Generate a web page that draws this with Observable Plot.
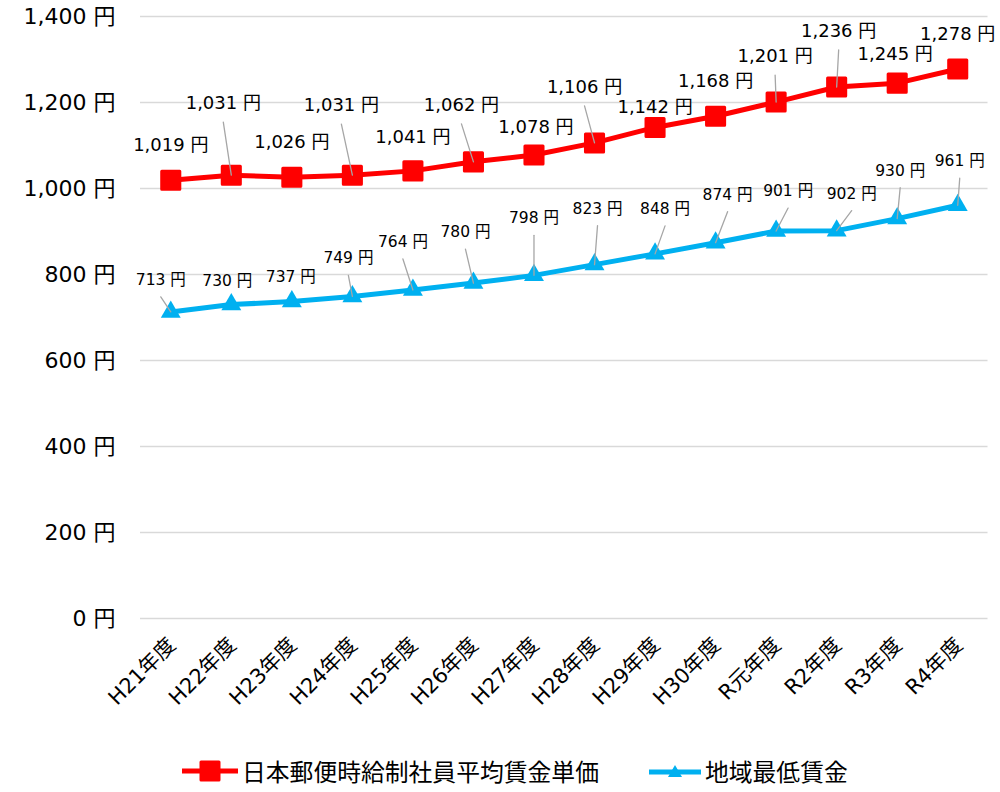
<!DOCTYPE html>
<html>
<head>
<meta charset="utf-8">
<script src="https://cdn.jsdelivr.net/npm/d3@7"></script>
<script src="https://cdn.jsdelivr.net/npm/@observablehq/plot@0.6"></script>
<style>
  body { margin: 0; background: #fff; font-family: "DejaVu Sans", Verdana, "Noto Sans CJK JP", sans-serif; }
  #legend { display: flex; align-items: center; margin-left: 182px; margin-top: 26px; font-family: "Noto Sans CJK JP", sans-serif; font-size: 23.8px; color: #000; line-height: 30px; }
  .item { display: flex; align-items: center; }
  .item svg { margin-right: 4px; }
</style>
</head>
<body>
<div id="chart"></div>
<div id="legend">
  <div class="item" style="margin-right:50px">
    <svg width="56" height="24"><line x1="0" y1="12" x2="56" y2="12" stroke="#FF0000" stroke-width="5"/><rect x="19" y="3" width="18" height="18" fill="#FF0000" stroke="#FF0000" stroke-width="3" stroke-linejoin="round"/></svg>
    <span>日本郵便時給制社員平均賃金単価</span>
  </div>
  <div class="item">
    <svg width="52" height="24"><line x1="0" y1="13" x2="52" y2="13" stroke="#00B0F0" stroke-width="5"/><path d="M26,6 L33,18 L19,18 Z" fill="#00B0F0"/></svg>
    <span>地域最低賃金</span>
  </div>
</div>
<script>
// ---- data ----
const years = ["H21年度","H22年度","H23年度","H24年度","H25年度","H26年度","H27年度","H28年度","H29年度","H30年度","R元年度","R2年度","R3年度","R4年度"];
const postalWage = [1019,1031,1026,1031,1041,1062,1078,1106,1142,1168,1201,1236,1245,1278];
const minWage = [713,730,737,749,764,780,798,823,848,874,901,902,930,961];
const yTicks = [0,200,400,600,800,1000,1200,1400];
const seriesNames = ["日本郵便時給制社員平均賃金単価","地域最低賃金"];

// ---- label layout (pixel offsets of each data label from its point; leader flag) ----
const redLabelDx = [0,-8,0,-11,0,-12,2,-10,0,0,-1,2,-2,0];
const redLabelDy = [-35,-72,-35,-70,-34,-57,-28,-56,-20,-35,-46,-56,-29,-35];
const redLeader  = [0,1,0,1,0,1,0,1,0,0,1,1,0,0];
const blueLabelDx = [-10,-4,-1,-4,-10,-8,0,3,10,12,12,15,3,2];
const blueLabelDy = [-32,-24,-25,-38,-48,-51,-57,-56,-45,-48,-40,-37,-48,-44];
const blueLeader  = [1,0,0,1,1,1,1,1,1,1,1,1,1,1];

const RED = "#FF0000", BLUE = "#00B0F0", GRAY = "#A6A6A6";
const yen = v => d3.format(",")(v) + " 円";

const red = years.map((y, i) => ({year: y, value: postalWage[i], dx: redLabelDx[i], dy: redLabelDy[i], leader: redLeader[i], gap: 19}));
const blue = years.map((y, i) => ({year: y, value: minWage[i], dx: blueLabelDx[i], dy: blueLabelDy[i], leader: blueLeader[i], gap: 17}));

const leaderRows = [...red, ...blue].filter(d => d.leader).map(d => {
  const ex = d.dx, ey = d.dy + d.gap;
  return {...d, len: Math.hypot(ex, ey), rot: Math.atan2(ex, -ey) * 180 / Math.PI};
});

const lineShape = {draw(context, l) { context.moveTo(0, 0); context.lineTo(0, -l); }};

const labelMarks = (rows, size) => rows.map(d => Plot.text([d], {
  x: "year", y: "value", text: d => yen(d.value), dx: d.dx, dy: d.dy,
  fontSize: size, fill: "#000"
}));

const chart = Plot.plot({
  width: 1000,
  height: 730,
  marginLeft: 140,
  marginRight: 12.5,
  marginTop: 16,
  marginBottom: 112,
  x: {type: "point", domain: years, padding: 0.5, round: false, axis: null},
  y: {domain: [0, 1400], axis: null},
  length: {type: "identity"},
  style: {fontFamily: "'DejaVu Sans', Verdana, 'Noto Sans CJK JP', sans-serif", background: "#fff", overflow: "visible"},
  marks: [
    Plot.ruleY(yTicks, {stroke: "#D9D9D9", strokeWidth: 1.3}),
    Plot.text(yTicks, {y: d => d, text: d => yen(d), frameAnchor: "left", textAnchor: "end", dx: -25, fontSize: 22, fill: "#000"}),
    Plot.text(years, {x: d => d, text: d => d, frameAnchor: "bottom", rotate: -45, textAnchor: "end", dx: 6, dy: 28, fontSize: 21, fill: "#000", fontFamily: "'DejaVu Sans', 'Noto Sans CJK JP', sans-serif"}),
    Plot.line(red, {x: "year", y: "value", stroke: RED, strokeWidth: 5}),
    Plot.dot(red, {x: "year", y: "value", symbol: "square", r: 10.2, fill: RED, stroke: RED, strokeWidth: 3, strokeLinejoin: "round"}),
    Plot.line(blue, {x: "year", y: "value", stroke: BLUE, strokeWidth: 5}),
    Plot.dot(blue, {x: "year", y: "value", symbol: "triangle", r: 7.4, fill: BLUE}),
    Plot.vector(leaderRows, {x: "year", y: "value", length: "len", rotate: "rot", anchor: "start", shape: lineShape, stroke: GRAY, strokeWidth: 1.3}),
    ...labelMarks(red, 18),
    ...labelMarks(blue, 15.5)
  ]
});
document.getElementById("chart").appendChild(chart);
</script>
</body>
</html>
